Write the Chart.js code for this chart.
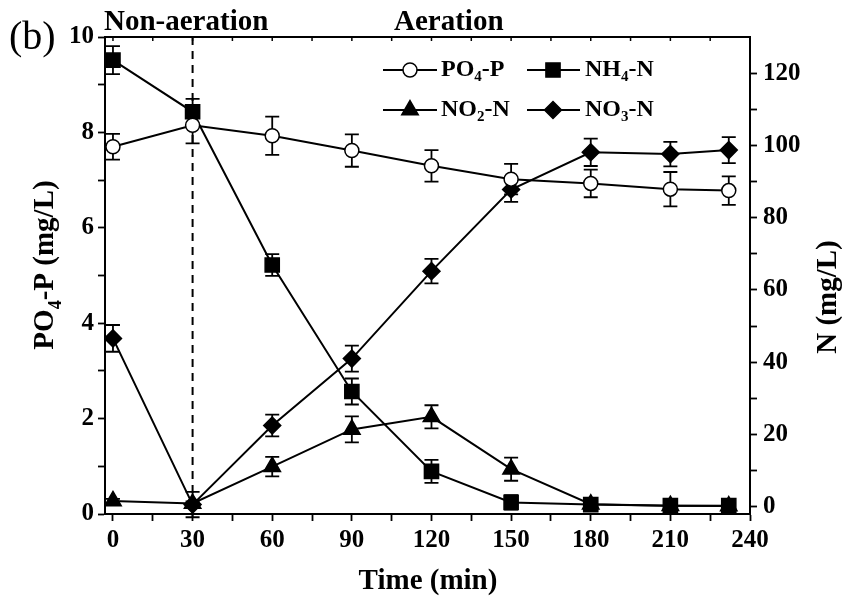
<!DOCTYPE html>
<html>
<head>
<meta charset="utf-8">
<script src="https://cdn.jsdelivr.net/npm/chart.js@4/dist/chart.umd.min.js"></script>
<style>
  html, body { margin: 0; padding: 0; background: #fff; }
</style>
</head>
<body>
<canvas id="myChart" width="842" height="597"></canvas>
<script>
// temps (min)
const time = [0, 30, 60, 90, 120, 150, 180, 210, 232];

// PO4-P (mg/L), axe de gauche
const po4 = [7.7, 8.15, 7.93, 7.62, 7.3, 7.02, 6.93, 6.81, 6.78];
const po4Err = [0.27, 0.38, 0.4, 0.34, 0.33, 0.32, 0.29, 0.36, 0.3];

// azote (mg/L), axe de droite
const nh4 = [123.6, 109.3, 66.9, 31.9, 9.8, 1.2, 0.6, 0.3, 0.3];
const nh4Err = [3.9, 3.6, 3.0, 3.6, 3.2, 2.0, 1.2, 0.8, 0.8];
const no2 = [1.6, 0.9, 11.1, 21.4, 24.9, 10.4, 0.7, 0.3, 0.2];
const no2Err = [0.6, 0.6, 2.7, 3.6, 3.2, 3.2, 1.0, 0.6, 0.6];
const no3 = [46.6, 0.6, 22.5, 41.0, 65.2, 87.8, 98.1, 97.6, 98.7];
const no3Err = [3.7, 3.5, 3.0, 3.6, 3.4, 3.4, 3.8, 3.4, 3.6];

// labels : [base, indice, suite]
const seriesNames = [["PO", "4", "-P"], ["NH", "4", "-N"], ["NO", "2", "-N"], ["NO", "3", "-N"]];
const xTitle = "Time (min)";
const leftTitle = ["PO", "4", "-P (mg/L)"];
const rightTitle = "N (mg/L)";
const phaseLabels = ["Non-aeration", "Aeration"];
const panelLabel = "(b)";
const phaseSwitch = 30;

const FONT = "'Liberation Serif', 'Times New Roman', serif";

function pts(ys) {
  return time.map((t, i) => ({ x: t, y: ys[i] }));
}

function mkSet(i, ys, err, axis, style, radius, fill) {
  return {
    label: seriesNames[i].join(""),
    data: pts(ys),
    err: err,
    yAxisID: axis,
    borderColor: "#000",
    borderWidth: 2,
    pointStyle: style,
    pointRadius: radius,
    pointHoverRadius: radius,
    pointBackgroundColor: fill,
    pointBorderColor: "#000",
    pointBorderWidth: 1.5,
    tension: 0,
  };
}

const data = {
  datasets: [
    mkSet(0, po4, po4Err, "y", "circle", 7, "#fff"),
    mkSet(1, nh4, nh4Err, "y2", "rect", 10, "#000"),
    mkSet(2, no2, no2Err, "y2", "triangle", 9.5, "#000"),
    mkSet(3, no3, no3Err, "y2", "rectRot", 8.5, "#000"),
  ],
};

// dessine un symbole de la legende
function drawMarker(ctx, style, x, y, r, fill) {
  ctx.save();
  ctx.beginPath();
  if (style === "circle") {
    ctx.arc(x, y, r, 0, Math.PI * 2);
  } else if (style === "rect") {
    const s = r * Math.SQRT1_2;
    ctx.rect(x - s, y - s, 2 * s, 2 * s);
  } else if (style === "triangle") {
    ctx.moveTo(x, y - r);
    ctx.lineTo(x + r * Math.sin(2 * Math.PI / 3), y - r * Math.cos(2 * Math.PI / 3));
    ctx.lineTo(x + r * Math.sin(4 * Math.PI / 3), y - r * Math.cos(4 * Math.PI / 3));
    ctx.closePath();
  } else {
    ctx.moveTo(x, y - r);
    ctx.lineTo(x + r, y);
    ctx.lineTo(x, y + r);
    ctx.lineTo(x - r, y);
    ctx.closePath();
  }
  ctx.fillStyle = fill;
  ctx.fill();
  ctx.lineWidth = 1.5;
  ctx.strokeStyle = "#000";
  ctx.stroke();
  ctx.restore();
}

// texte avec indice, retourne la largeur
function subText(ctx, parts, x, y, size, draw) {
  ctx.font = "bold " + size + "px " + FONT;
  const w0 = ctx.measureText(parts[0]).width;
  const subSize = Math.round(size * 0.62);
  ctx.font = "bold " + subSize + "px " + FONT;
  const w1 = ctx.measureText(parts[1]).width;
  ctx.font = "bold " + size + "px " + FONT;
  const w2 = ctx.measureText(parts[2]).width;
  if (draw) {
    ctx.fillText(parts[0], x, y);
    ctx.font = "bold " + subSize + "px " + FONT;
    ctx.fillText(parts[1], x + w0, y + size * 0.28);
    ctx.font = "bold " + size + "px " + FONT;
    ctx.fillText(parts[2], x + w0 + w1, y);
  }
  return w0 + w1 + w2;
}

const decorPlugin = {
  id: "decor",
  beforeDatasetsDraw(chart) {
    const ctx = chart.ctx;
    const a = chart.chartArea;
    const xs = chart.scales.x;
    // ligne pointillee de separation
    ctx.save();
    ctx.strokeStyle = "#000";
    ctx.lineWidth = 2;
    ctx.setLineDash([8, 6]);
    const px = xs.getPixelForValue(phaseSwitch);
    ctx.beginPath();
    ctx.moveTo(px, a.top);
    ctx.lineTo(px, a.bottom);
    ctx.stroke();
    ctx.setLineDash([]);
    // barres d'erreur
    ctx.lineWidth = 1.8;
    chart.data.datasets.forEach((ds) => {
      const ys = chart.scales[ds.yAxisID];
      ds.data.forEach((p, i) => {
        const x = xs.getPixelForValue(p.x);
        const yt = ys.getPixelForValue(p.y + ds.err[i]);
        const yb = ys.getPixelForValue(p.y - ds.err[i]);
        ctx.beginPath();
        ctx.moveTo(x, yt);
        ctx.lineTo(x, yb);
        ctx.moveTo(x - 7, yt);
        ctx.lineTo(x + 7, yt);
        ctx.moveTo(x - 7, yb);
        ctx.lineTo(x + 7, yb);
        ctx.stroke();
      });
    });
    ctx.restore();
  },
  afterDraw(chart) {
    const ctx = chart.ctx;
    const a = chart.chartArea;
    const xs = chart.scales.x;
    ctx.save();
    ctx.fillStyle = "#000";
    ctx.strokeStyle = "#000";
    // cadre du haut avec petits ticks
    ctx.lineWidth = 2;
    ctx.beginPath();
    ctx.moveTo(a.left - 1, a.top);
    ctx.lineTo(a.right + 1, a.top);
    ctx.stroke();
    ctx.lineWidth = 1.5;
    xs.ticks.forEach((t) => {
      const x = xs.getPixelForValue(t.value);
      ctx.beginPath();
      ctx.moveTo(x, a.top);
      ctx.lineTo(x, a.top + 4);
      ctx.stroke();
    });

    // legende
    const rows = [70, 110];
    const cols = [[383, 437, 410, 441], [527, 580, 553, 585]];
    const styles = [["circle", 7, "#fff"], ["rect", 10, "#000"], ["triangle", 9.5, "#000"], ["rectRot", 8.5, "#000"]];
    ctx.textBaseline = "middle";
    ctx.textAlign = "left";
    seriesNames.forEach((n, i) => {
      const c = cols[i % 2];
      const y = rows[Math.floor(i / 2)];
      ctx.lineWidth = 2;
      ctx.beginPath();
      ctx.moveTo(c[0], y);
      ctx.lineTo(c[1], y);
      ctx.stroke();
      drawMarker(ctx, styles[i][0], c[2], y, styles[i][1], styles[i][2]);
      subText(ctx, n, c[3], y, 24, true);
    });

    // titres
    ctx.textBaseline = "alphabetic";
    ctx.font = "bold 29px " + FONT;
    ctx.fillText(phaseLabels[0], 104, 30);
    ctx.fillText(phaseLabels[1], 394, 30);
    ctx.font = "40px " + FONT;
    ctx.fillText(panelLabel, 9, 49);

    ctx.textAlign = "center";
    ctx.font = "bold 29px " + FONT;
    ctx.fillText(xTitle, 428, 589);

    // titre gauche
    ctx.save();
    ctx.translate(53, 265);
    ctx.rotate(-Math.PI / 2);
    ctx.textAlign = "left";
    const w = subText(ctx, leftTitle, 0, 0, 29, false);
    subText(ctx, leftTitle, -w / 2, 0, 29, true);
    ctx.restore();

    // titre droite
    ctx.save();
    ctx.translate(836, 297);
    ctx.rotate(-Math.PI / 2);
    ctx.textAlign = "center";
    ctx.font = "bold 29px " + FONT;
    ctx.fillText(rightTitle, 0, 0);
    ctx.restore();
    ctx.restore();
  },
};

const tickFont = { family: FONT, size: 25, weight: "bold" };
const gridOpts = {
  drawOnChartArea: false,
  drawTicks: true,
  tickLength: 7,
  tickWidth: 1.8,
  tickColor: "#000",
  color: "#000",
};
const borderOpts = { display: true, color: "#000", width: 2 };

const config = {
  type: "line",
  data: data,
  options: {
    responsive: false,
    animation: false,
    layout: { padding: { top: 37, left: 0, right: 0, bottom: 0 } },
    plugins: {
      legend: { display: false },
      tooltip: { enabled: false },
    },
    scales: {
      x: {
        type: "linear",
        min: -3,
        max: 240,
        ticks: {
          stepSize: 15,
          includeBounds: false,
          autoSkip: false,
          maxRotation: 0,
          font: tickFont,
          color: "#000",
          padding: 5,
          callback: (v) => (v % 30 === 0 ? v : ""),
        },
        grid: gridOpts,
        border: borderOpts,
        afterFit: (s) => { s.height = 83; },
      },
      y: {
        position: "left",
        min: 0,
        max: 10,
        ticks: {
          stepSize: 1,
          autoSkip: false,
          font: tickFont,
          color: "#000",
          padding: 4,
          callback: (v) => (v % 2 === 0 ? v : ""),
        },
        grid: gridOpts,
        border: borderOpts,
        afterFit: (s) => { s.width = 105; },
      },
      y2: {
        position: "right",
        min: -2,
        max: 130,
        ticks: {
          stepSize: 10,
          includeBounds: false,
          autoSkip: false,
          font: tickFont,
          color: "#000",
          padding: 6,
          callback: (v) => (v % 20 === 0 && v <= 120 ? v : ""),
        },
        grid: Object.assign({}, gridOpts, {
          tickColor: (c) => (c.tick && c.tick.value > 120 ? "rgba(0,0,0,0)" : "#000"),
        }),
        border: borderOpts,
        afterFit: (s) => { s.width = 92; },
      },
    },
  },
  plugins: [decorPlugin],
};

let context = document.getElementById("myChart").getContext("2d");
let chart = new Chart(context, config);
</script>
</body>
</html>
